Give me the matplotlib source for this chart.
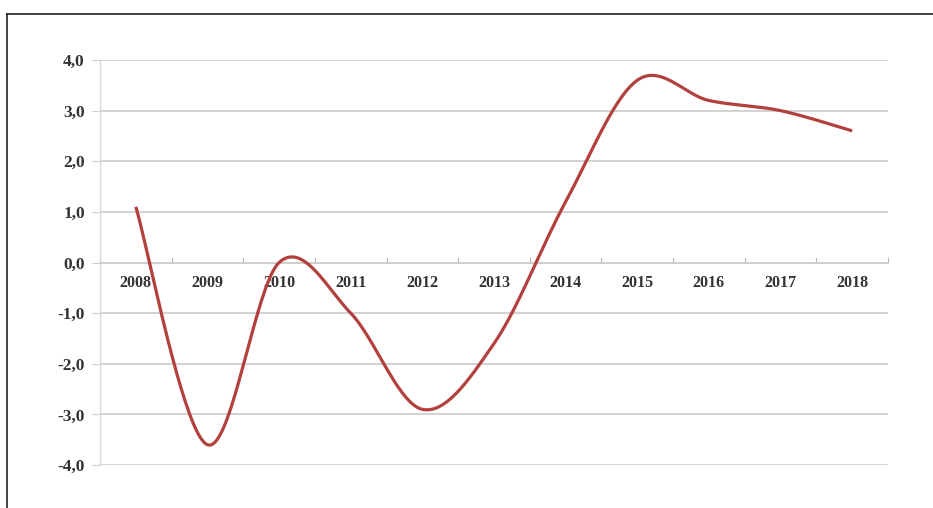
import numpy as np
import matplotlib
matplotlib.use("Agg")
import matplotlib.pyplot as plt
from matplotlib.lines import Line2D

plt.rcParams["font.family"] = ["Liberation Serif", "DejaVu Serif"]
plt.rcParams["font.weight"] = "bold"
plt.rcParams["font.size"] = 11.5

years = ["2008", "2009", "2010", "2011", "2012", "2013", "2014", "2015", "2016", "2017", "2018"]
values = [1.1, -3.6, 0.0, -1.0, -2.9, -1.6, 1.2, 3.6, 3.2, 3.0, 2.6]
yticks = [-4.0, -3.0, -2.0, -1.0, 0.0, 1.0, 2.0, 3.0, 4.0]


def smooth(xs, ys, n=40):
    # Catmull-Rom style smoothing like spreadsheet "smoothed line"
    xs = np.asarray(xs, float)
    ys = np.asarray(ys, float)
    px = np.concatenate([[xs[0]], xs, [xs[-1]]])
    py = np.concatenate([[ys[0]], ys, [ys[-1]]])
    outx, outy = [], []
    for i in range(1, len(px) - 2):
        p0, p1, p2, p3 = (np.array([px[j], py[j]]) for j in (i - 1, i, i + 1, i + 2))
        c1 = p1 + (p2 - p0) / 6.0
        c2 = p2 - (p3 - p1) / 6.0
        t = np.linspace(0, 1, n)[:, None]
        b = (1 - t) ** 3 * p1 + 3 * (1 - t) ** 2 * t * c1 + 3 * (1 - t) * t ** 2 * c2 + t ** 3 * p2
        outx.extend(b[:, 0])
        outy.extend(b[:, 1])
    return np.array(outx), np.array(outy)


fig = plt.figure(figsize=(9.33, 5.08), dpi=100)
fig.patch.set_facecolor("white")
ax = fig.add_axes([0.1072, 0.0846, 0.8446, 0.7973])

x = np.arange(len(years))
sx, sy = smooth(x, values)
ax.plot(sx, sy, color="#B2403D", lw=2.3, solid_capstyle="butt", zorder=3)

ax.set_xlim(-0.5, len(years) - 0.5)
ax.set_ylim(-4.0, 4.0)
ax.set_yticks(yticks)
ax.set_yticklabels([f"{v:.1f}".replace(".", ",") for v in yticks])
ax.yaxis.grid(True, color="#CFCFCF", lw=1.3)
ax.set_axisbelow(True)

ax.set_xticks(np.arange(-0.5, len(years), 1.0))
ax.set_xticklabels([])
ax.set_xticks(x, minor=True)
ax.set_xticklabels(years, minor=True)
ax.tick_params(axis="x", which="minor", length=0, pad=9, labelcolor="#333333")
ax.tick_params(axis="x", which="major", length=4, direction="in", color="#BBBBBB")
ax.tick_params(axis="y", length=6, color="#CFCFCF", pad=5, labelcolor="#333333",
               labelsize=12.5)

for s in ["top", "right"]:
    ax.spines[s].set_visible(False)
ax.spines["bottom"].set_position(("data", 0))
ax.spines["bottom"].set_color("#CFCFCF")
ax.spines["bottom"].set_linewidth(1.3)
ax.spines["left"].set_color("#D8D8D8")
ax.spines["left"].set_linewidth(1.0)

# outer frame (left and top edges visible)
x0 = 7.5 / 933
y0 = 1 - 13.5 / 508
fig.add_artist(Line2D([x0, x0], [-0.01, y0], transform=fig.transFigure, color="#222222", lw=1.2))
fig.add_artist(Line2D([x0, 1.01], [y0, y0], transform=fig.transFigure, color="#222222", lw=1.2))

fig.savefig("out.png", dpi=100)
